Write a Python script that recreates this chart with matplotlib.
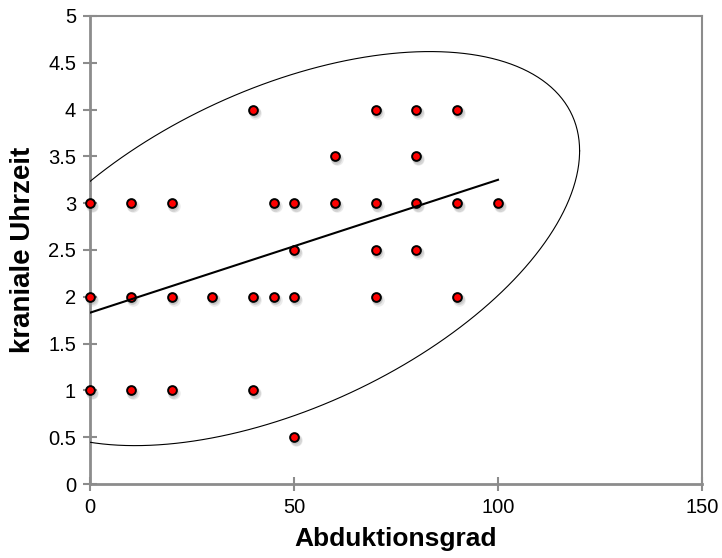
import numpy as np
import matplotlib
matplotlib.use("Agg")
import matplotlib.pyplot as plt
import matplotlib.transforms as mtransforms

plt.rcParams['font.family'] = ['Liberation Sans', 'DejaVu Sans']

# Abduktionsgrad vs kraniale Uhrzeit
abduktion = [40, 70, 80, 90,
             60, 80,
             0, 10, 20, 45, 50, 60, 70, 80, 90, 100,
             50, 70, 80,
             0, 10, 20, 30, 40, 45, 50, 70, 90,
             0, 10, 20, 40,
             50]
uhrzeit = [4, 4, 4, 4,
           3.5, 3.5,
           3, 3, 3, 3, 3, 3, 3, 3, 3, 3,
           2.5, 2.5, 2.5,
           2, 2, 2, 2, 2, 2, 2, 2, 2,
           1, 1, 1, 1,
           0.5]

# Trendlinie (linear), gelesen aus dem Bild
trend_x = [0, 100]
trend_intercept = 1.83
trend_slope = 0.0142

# Ellipse: Zentrum, Halbachsen in x/y, Korrelation
ell_center = (47.15, 2.515)
ell_rx = 72.85
ell_ry = 2.105
ell_rho = 0.496

x_ticks = [0, 50, 100, 150]
y_ticks = [0, 0.5, 1, 1.5, 2, 2.5, 3, 3.5, 4, 4.5, 5]

fig = plt.figure(figsize=(7.22, 5.58), dpi=100)
ax = fig.add_axes([90 / 722, 1 - 484 / 558, 612 / 722, 468 / 558])

# Schatten unter den Punkten
for k, (dx, dy, a) in enumerate([(2, -3, 0.10), (1.5, -2.5, 0.12), (1, -2, 0.12)]):
    tr = mtransforms.offset_copy(ax.transData, fig=fig, x=dx, y=dy, units='dots')
    ax.plot(abduktion, uhrzeit, 'o', ms=9 - k, color='#404040', alpha=a,
            mec='none', transform=tr, zorder=2, clip_on=False)

ax.plot(abduktion, uhrzeit, 'o', ms=6.3, mfc='#ff0000', mec='black', mew=1.4,
        zorder=3, clip_on=False)

# Trendlinie
tx = np.array(trend_x, dtype=float)
ax.plot(tx, trend_intercept + trend_slope * tx, color='black', lw=1.5, zorder=4)

# Ellipse
t = np.linspace(0, 2 * np.pi, 400)
ex = ell_center[0] + ell_rx * np.cos(t)
ey = ell_center[1] + ell_ry * (ell_rho * np.cos(t) + np.sqrt(1 - ell_rho ** 2) * np.sin(t))
ax.plot(ex, ey, color='black', lw=0.8, zorder=4)

ax.set_xlim(0, 150)
ax.set_ylim(0, 5)
ax.set_xticks(x_ticks)
ax.set_yticks(y_ticks)
ax.set_xticklabels([f'{v:g}' for v in x_ticks])
ax.set_yticklabels([f'{v:g}' for v in y_ticks])

grey = '#8c8c8c'
for s in ax.spines.values():
    s.set_color(grey)
    s.set_linewidth(1.5)
ax.spines['left'].set_linewidth(2)
ax.spines['bottom'].set_linewidth(2)
ax.tick_params(axis='both', direction='inout', length=10, width=1.5, color=grey,
               labelsize=14.5, labelcolor='black', pad=5)

ax.set_xlabel('Abduktionsgrad', fontsize=19, fontweight='bold', labelpad=7)
ax.set_ylabel('kraniale Uhrzeit', fontsize=20, fontweight='bold', labelpad=9)

fig.savefig('out.png', dpi=100)
